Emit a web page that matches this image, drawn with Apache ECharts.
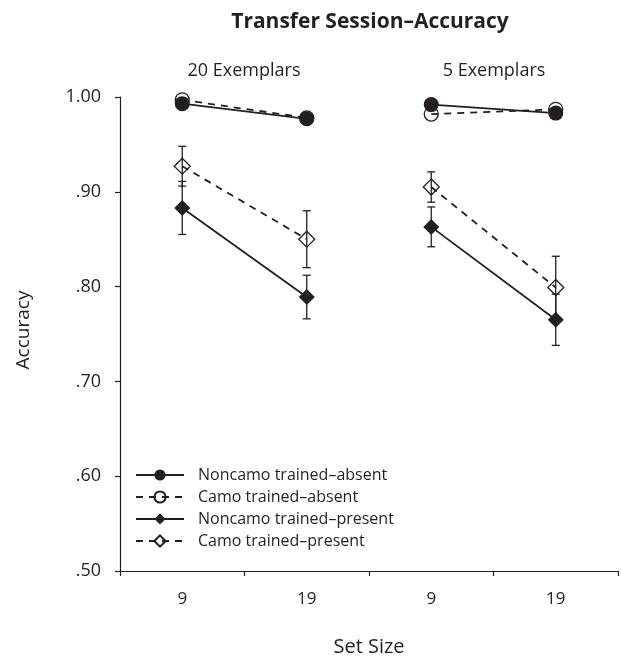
<!DOCTYPE html>
<html>
<head>
<meta charset="utf-8">
<script src="https://cdn.jsdelivr.net/npm/echarts@6/dist/echarts.min.js"></script>
<style>html,body{margin:0;padding:0;background:#fff}#c{width:621px;height:659px}</style>
</head>
<body>
<div id="c"></div>
<script>
// Categories (set size) — panels: 20 Exemplars (idx 0,1), 5 Exemplars (idx 2,3)
const setSizes = ['9', '19', '9', '19'];
const panelLabels = ['20 Exemplars', '5 Exemplars'];
const yTicks = [0.5, 0.6, 0.7, 0.8, 0.9, 1.0];

// Accuracy values per category
const noncamoAbsent = [0.993, 0.977, 0.992, 0.983];
const camoAbsent = [0.997, 0.978, 0.982, 0.987];
const noncamoPresent = [0.883, 0.789, 0.863, 0.765];
const camoPresent = [0.927, 0.850, 0.905, 0.799];
// Error bar half-widths (present conditions)
const noncamoPresentErr = [0.028, 0.023, 0.021, 0.027];
const camoPresentErr = [0.021, 0.030, 0.016, 0.033];

const FONT = 'Open Sans';
const INK = '#231f20';

const chart = echarts.init(document.getElementById('c'));

function panelData(arr, p) {
  return [[2 * p, arr[2 * p]], [2 * p + 1, arr[2 * p + 1]]];
}
function errData(vals, errs) {
  return vals.map((v, i) => [i, v, errs[i]]);
}

const defs = [
  { name: 'Noncamo trained–absent', vals: noncamoAbsent, symbol: 'circle', filled: true, dashed: false, size: 15, z: 5 },
  { name: 'Camo trained–absent', vals: camoAbsent, symbol: 'circle', filled: false, dashed: true, size: 14, z: 3 },
  { name: 'Noncamo trained–present', vals: noncamoPresent, symbol: 'diamond', filled: true, dashed: false, size: 16, z: 5 },
  { name: 'Camo trained–present', vals: camoPresent, symbol: 'diamond', filled: false, dashed: true, size: 16, z: 3 }
];

const series = [];
// error bars
[[noncamoPresent, noncamoPresentErr], [camoPresent, camoPresentErr]].forEach(([v, e]) => {
  series.push({
    type: 'custom',
    z: 1,
    silent: true,
    data: errData(v, e),
    renderItem: function (params, api) {
      const hi = api.coord([api.value(0), api.value(1) + api.value(2)]);
      const lo = api.coord([api.value(0), api.value(1) - api.value(2)]);
      const w = 4;
      const st = { stroke: INK, lineWidth: 1.3 };
      return {
        type: 'group',
        children: [
          { type: 'line', shape: { x1: hi[0], y1: hi[1], x2: lo[0], y2: lo[1] }, style: st },
          { type: 'line', shape: { x1: hi[0] - w, y1: hi[1], x2: hi[0] + w, y2: hi[1] }, style: st },
          { type: 'line', shape: { x1: lo[0] - w, y1: lo[1], x2: lo[0] + w, y2: lo[1] }, style: st }
        ]
      };
    }
  });
});
// lines (camo first, noncamo on top)
[1, 3, 0, 2].forEach(k => {
  const d = defs[k];
  [0, 1].forEach(p => {
    series.push({
      type: 'line',
      name: d.name,
      z: d.z,
      data: panelData(d.vals, p),
      symbol: d.symbol,
      symbolSize: d.size,
      showSymbol: true,
      animation: false,
      lineStyle: { color: INK, width: 1.8, type: d.dashed ? [7, 6] : 'solid' },
      itemStyle: d.filled
        ? { color: INK, borderColor: INK, borderWidth: 0 }
        : { color: 'rgba(255,255,255,0)', borderColor: INK, borderWidth: 1.3 }
    });
  });
});

chart.setOption({
  animation: false,
  backgroundColor: '#fff',
  grid: { left: 120, right: 3, top: 97, bottom: 88 },
  xAxis: {
    type: 'category',
    data: setSizes,
    boundaryGap: true,
    axisLine: { lineStyle: { color: INK, width: 1.2 } },
    axisTick: { show: true, length: 5, lineStyle: { color: INK, width: 1.2 } },
    axisLabel: { color: INK, fontFamily: FONT, fontSize: 17, margin: 20 }
  },
  yAxis: {
    type: 'value',
    min: 0.5,
    max: 1.0,
    interval: 0.1,
    splitLine: { show: false },
    axisLine: { show: true, lineStyle: { color: INK, width: 1.2 } },
    axisTick: { show: true, length: 5, lineStyle: { color: INK, width: 1.2 } },
    axisLabel: {
      color: INK, fontFamily: FONT, fontSize: 18, margin: 19,
      formatter: v => (v >= 0.999 ? '1.00' : v.toFixed(2).replace(/^0/, ''))
    }
  },
  legend: {
    data: defs.map(d => d.name),
    orient: 'vertical',
    left: 130,
    top: 462,
    itemWidth: 48,
    itemHeight: 14,
    itemGap: 6,
    selectedMode: false,
    textStyle: { color: INK, fontFamily: FONT, fontSize: 16, padding: [0, 0, 0, 9] }
  },
  graphic: [
    { type: 'text', x: 370, y: 22, style: { text: 'Transfer Session–Accuracy', fill: INK, font: 'bold 21px "Open Sans"', textAlign: 'center', textVerticalAlign: 'middle' } },
    { type: 'text', x: 244, y: 71, style: { text: panelLabels[0], fill: INK, font: '18px "Open Sans"', textAlign: 'center', textVerticalAlign: 'middle' } },
    { type: 'text', x: 494, y: 71, style: { text: panelLabels[1], fill: INK, font: '18px "Open Sans"', textAlign: 'center', textVerticalAlign: 'middle' } },
    { type: 'text', x: 24, y: 330, rotation: Math.PI / 2, style: { text: 'Accuracy', fill: INK, font: '19px "Open Sans"', textAlign: 'center', textVerticalAlign: 'middle' } },
    { type: 'text', x: 369, y: 647, style: { text: 'Set Size', fill: INK, font: '20px "Open Sans"', textAlign: 'center', textVerticalAlign: 'middle' } }
  ],
  series: series
});
</script>
</body>
</html>
